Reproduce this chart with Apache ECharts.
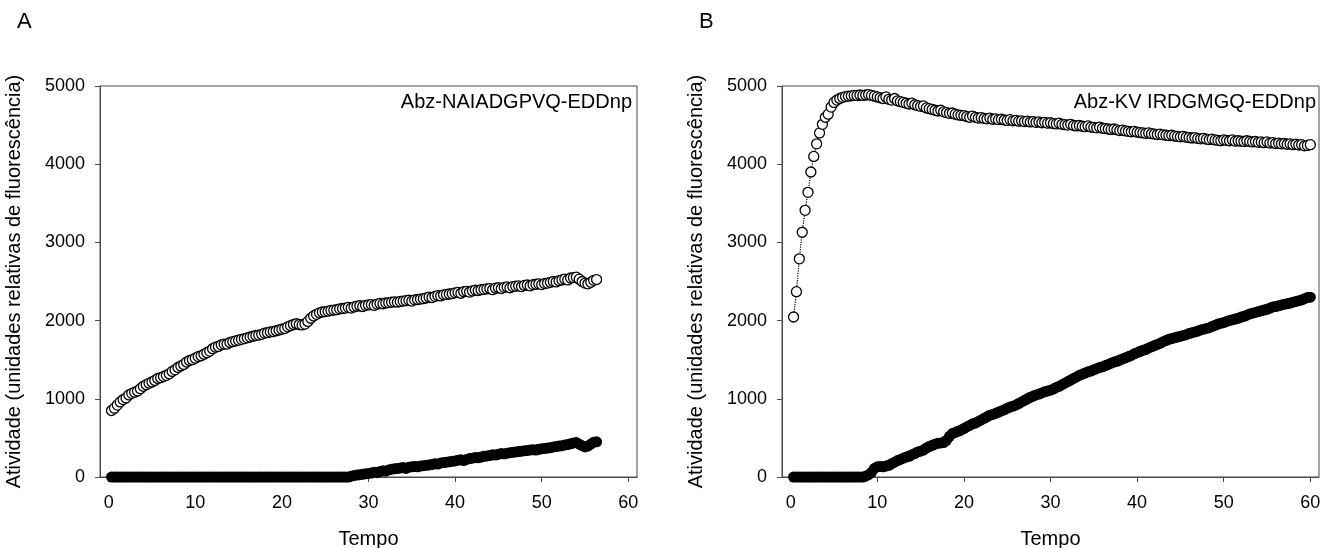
<!DOCTYPE html>
<html>
<head>
<meta charset="utf-8">
<script src="https://cdn.jsdelivr.net/npm/echarts@6/dist/echarts.min.js"></script>
<style>
  html, body { margin: 0; padding: 0; background: #fff; }
  #chart { width: 1321px; height: 548px; }
</style>
</head>
<body>
<div id="chart"></div>
<script>
// Sampling interval of the readings (minutes): reading k is taken at k * sampleInterval
const sampleInterval = 1 / 3;

const xTicks = [0, 10, 20, 30, 40, 50, 60];
const yTicks = [0, 1000, 2000, 3000, 4000, 5000];

const panelLabels = ['A', 'B'];
const substrateA = 'Abz-NAIADGPVQ-EDDnp';
const substrateB = 'Abz-KV IRDGMGQ-EDDnp';
const xTitle = 'Tempo';
const yTitle = 'Atividade (unidades relativas de fluorescência)';

// Panel A – open circles
const openA = [
  850, 880, 920, 960, 990, 1010, 1050, 1070, 1085, 1100,
  1130, 1160, 1180, 1200, 1215, 1235, 1260, 1270, 1285, 1300,
  1320, 1350, 1370, 1400, 1420, 1440, 1470, 1490, 1500, 1520,
  1540, 1550, 1570, 1590, 1610, 1640, 1660, 1670, 1690, 1700,
  1700, 1720, 1730, 1740, 1750, 1760, 1770, 1780, 1790, 1800,
  1810, 1815, 1825, 1840, 1845, 1855, 1860, 1870, 1880, 1890,
  1900, 1920, 1935, 1950, 1960, 1950, 1945, 1955, 1990, 2030,
  2060, 2080, 2100, 2110, 2115, 2120, 2130, 2135, 2140, 2150,
  2155, 2160, 2170, 2160, 2175, 2185, 2190, 2180, 2195, 2200,
  2205, 2195, 2210, 2220, 2215, 2225, 2230, 2235, 2240, 2235,
  2245, 2250, 2255, 2260, 2250, 2265, 2270, 2275, 2280, 2290,
  2300, 2295, 2310, 2320, 2315, 2330, 2335, 2340, 2345, 2355,
  2360, 2350, 2370, 2375, 2365, 2380, 2390, 2385, 2395, 2400,
  2405, 2410, 2395, 2415, 2420, 2410, 2425, 2430, 2420, 2435,
  2440, 2445, 2435, 2450, 2455, 2445, 2460, 2465, 2470, 2460,
  2475, 2480, 2490, 2500, 2495, 2510, 2520, 2530, 2520, 2545,
  2550, 2555, 2530, 2500, 2480, 2470, 2490, 2515, 2525
];

// Panel A – filled circles
const filledA = [
  0, 0, 0, 0, 0, 0, 0, 0, 0, 0,
  0, 0, 0, 0, 0, 0, 0, 0, 0, 0,
  0, 0, 0, 0, 0, 0, 0, 0, 0, 0,
  0, 0, 0, 0, 0, 0, 0, 0, 0, 0,
  0, 0, 0, 0, 0, 0, 0, 0, 0, 0,
  0, 0, 0, 0, 0, 0, 0, 0, 0, 0,
  0, 0, 0, 0, 0, 0, 0, 0, 0, 0,
  0, 0, 0, 0, 0, 0, 0, 0, 0, 0,
  0, 0, 0, 10, 20, 25, 30, 35, 40, 45,
  50, 60, 55, 70, 80, 75, 90, 100, 105, 110,
  115, 120, 110, 125, 130, 135, 130, 140, 145, 150,
  155, 160, 170, 165, 180, 185, 190, 195, 200, 205,
  215, 220, 210, 225, 235, 240, 250, 245, 255, 265,
  270, 275, 285, 280, 290, 300, 295, 305, 310, 315,
  320, 325, 330, 335, 340, 345, 350, 345, 355, 360,
  365, 370, 375, 385, 390, 395, 400, 410, 415, 425,
  435, 440, 420, 400, 385, 395, 420, 445, 450
];

// Panel B – open circles
const openB = [
  2046, 2370, 2790, 3130, 3410, 3640, 3900, 4100, 4260, 4400,
  4510, 4600, 4640, 4730, 4790, 4820, 4840, 4855, 4865, 4870,
  4875, 4880, 4880, 4885, 4880, 4885, 4890, 4880, 4870, 4860,
  4850, 4840, 4860, 4830, 4820, 4840, 4810, 4800, 4790, 4780,
  4770, 4780, 4760, 4750, 4740, 4745, 4720, 4710, 4700, 4690,
  4680, 4690, 4670, 4660, 4650, 4655, 4640, 4630, 4625, 4620,
  4610, 4600, 4615, 4600, 4590, 4595, 4585, 4580, 4590, 4575,
  4580, 4570, 4575, 4565, 4560, 4570, 4555, 4560, 4550, 4555,
  4545, 4550, 4540, 4545, 4535, 4540, 4530, 4535, 4525, 4530,
  4520, 4515, 4525, 4510, 4505, 4500, 4510, 4495, 4490, 4495,
  4485, 4480, 4490, 4475, 4470, 4465, 4475, 4460, 4455, 4450,
  4445, 4450, 4440, 4430, 4435, 4425, 4420, 4415, 4420, 4410,
  4405, 4400, 4395, 4400, 4390, 4385, 4380, 4385, 4375, 4370,
  4365, 4370, 4360, 4355, 4350, 4355, 4345, 4340, 4335, 4340,
  4330, 4325, 4330, 4320, 4315, 4320, 4310, 4305, 4300, 4310,
  4305, 4300, 4310, 4295, 4300, 4295, 4290, 4300, 4290, 4285,
  4290, 4280, 4285, 4275, 4285, 4270, 4275, 4265, 4270, 4260,
  4265, 4255, 4260, 4250, 4255, 4245, 4250, 4235, 4240, 4250
];

// Panel B – filled circles
const filledB = [
  0, 0, 0, 0, 0, 0, 0, 0, 0, 0,
  0, 0, 0, 0, 0, 0, 0, 0, 0, 0,
  0, 0, 0, 0, 0, 10, 30, 60, 110, 130,
  135, 130, 140, 150, 170, 190, 210, 225, 240, 255,
  265, 285, 300, 320, 330, 345, 370, 390, 405, 420,
  430, 435, 440, 470, 520, 555, 570, 585, 600, 620,
  640, 660, 680, 690, 710, 730, 750, 770, 790, 800,
  815, 830, 845, 860, 880, 895, 905, 920, 940, 960,
  980, 1000, 1020, 1035, 1050, 1060, 1075, 1090, 1100, 1110,
  1125, 1145, 1160, 1180, 1200, 1220, 1240, 1260, 1280, 1300,
  1315, 1330, 1345, 1355, 1370, 1385, 1400, 1410, 1425, 1440,
  1455, 1470, 1480, 1495, 1510, 1525, 1540, 1555, 1575, 1590,
  1605, 1620, 1630, 1650, 1665, 1680, 1695, 1710, 1730, 1745,
  1760, 1770, 1780, 1790, 1800, 1810, 1820, 1835, 1845, 1855,
  1865, 1880, 1890, 1900, 1910, 1925, 1940, 1955, 1965, 1975,
  1990, 2000, 2010, 2020, 2030, 2045, 2055, 2070, 2085, 2095,
  2105, 2115, 2125, 2135, 2145, 2160, 2175, 2180, 2190, 2200,
  2210, 2215, 2225, 2235, 2245, 2255, 2265, 2280, 2295, 2300
];

function pairs(values) {
  return values.map(function (v, i) { return [(i + 1) * sampleInterval, v]; });
}

const FONT = '"Liberation Sans", Arial, sans-serif';
const AXIS_COLOR = '#4a4a4a';

function plainNumber(v) { return String(v); }

function makeX(gridIndex) {
  return {
    gridIndex: gridIndex,
    type: 'value',
    min: -1,
    max: 61,
    name: xTitle,
    nameLocation: 'middle',
    nameGap: 52,
    nameTextStyle: { fontSize: 20, color: '#000', fontFamily: FONT },
    axisLine: { show: true, onZero: false, lineStyle: { color: AXIS_COLOR, width: 1 } },
    axisTick: { show: true, inside: false, length: 5, customValues: xTicks, lineStyle: { color: AXIS_COLOR } },
    axisLabel: { show: true, customValues: xTicks, formatter: plainNumber, fontSize: 18, color: '#000', fontFamily: FONT, margin: 17 },
    splitLine: { show: false }
  };
}

function makeY(gridIndex) {
  return {
    gridIndex: gridIndex,
    type: 'value',
    min: yTicks[0],
    max: yTicks[yTicks.length - 1],
    interval: 1000,
    name: yTitle,
    nameLocation: 'middle',
    nameGap: 76,
    nameTextStyle: { fontSize: 20, color: '#000', fontFamily: FONT },
    axisLine: { show: true, onZero: false, lineStyle: { color: AXIS_COLOR, width: 1 } },
    axisTick: { show: true, inside: false, length: 5, lineStyle: { color: AXIS_COLOR } },
    axisLabel: { show: true, formatter: plainNumber, fontSize: 18, color: '#000', fontFamily: FONT, margin: 15 },
    splitLine: { show: false }
  };
}

function openSeries(idx, values) {
  return {
    type: 'line',
    xAxisIndex: idx,
    yAxisIndex: idx,
    data: pairs(values),
    symbol: 'circle',
    symbolSize: 10,
    showSymbol: true,
    showAllSymbol: true,
    lineStyle: { type: 'dotted', color: '#000', width: 1.2 },
    itemStyle: { color: '#fff', borderColor: '#000', borderWidth: 1.3 },
    z: 3,
    animation: false
  };
}

function filledSeries(idx, values) {
  return {
    type: 'scatter',
    xAxisIndex: idx,
    yAxisIndex: idx,
    data: pairs(values),
    symbol: 'circle',
    symbolSize: 11,
    itemStyle: { color: '#000', opacity: 1 },
    z: 2,
    animation: false
  };
}

const chart = echarts.init(document.getElementById('chart'), null, { renderer: 'canvas' });
chart.setOption({
  backgroundColor: '#fff',
  animation: false,
  textStyle: { fontFamily: FONT },
  grid: [
    { left: 100, top: 86, width: 537, height: 391, outerBoundsMode: 'none', containLabel: false, show: true, borderColor: AXIS_COLOR, borderWidth: 1, backgroundColor: 'transparent' },
    { left: 782, top: 86, width: 537, height: 391, outerBoundsMode: 'none', containLabel: false, show: true, borderColor: AXIS_COLOR, borderWidth: 1, backgroundColor: 'transparent' }
  ],
  xAxis: [makeX(0), makeX(1)],
  yAxis: [makeY(0), makeY(1)],
  series: [
    filledSeries(0, filledA),
    openSeries(0, openA),
    filledSeries(1, filledB),
    openSeries(1, openB)
  ],
  graphic: [
    { type: 'text', left: 17, top: 11, style: { text: panelLabels[0], fontSize: 22, fill: '#000', fontFamily: FONT } },
    { type: 'text', left: 699, top: 11, style: { text: panelLabels[1], fontSize: 22, fill: '#000', fontFamily: FONT } },
    { type: 'text', right: 1321 - 632, top: 92, style: { text: substrateA, fontSize: 20, fill: '#000', fontFamily: FONT } },
    { type: 'text', right: 1321 - 1316, top: 92, style: { text: substrateB, fontSize: 20, fill: '#000', fontFamily: FONT } }
  ]
});
</script>
</body>
</html>
